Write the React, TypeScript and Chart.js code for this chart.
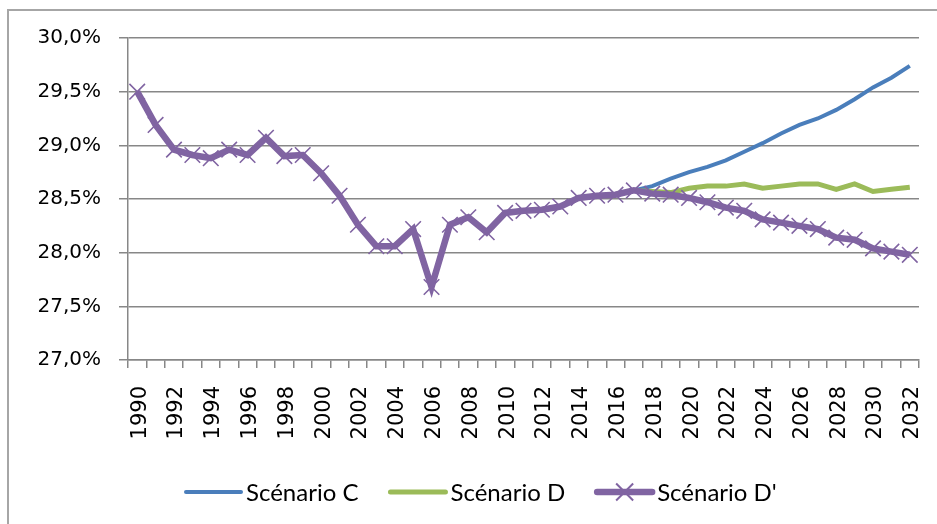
import React, { useEffect, useRef } from 'react';
import { Chart, registerables } from 'chart.js';

Chart.register(...registerables);

const years = [
  '1990', '1991', '1992', '1993', '1994', '1995', '1996', '1997', '1998', '1999',
  '2000', '2001', '2002', '2003', '2004', '2005', '2006', '2007', '2008', '2009',
  '2010', '2011', '2012', '2013', '2014', '2015', '2016', '2017', '2018', '2019',
  '2020', '2021', '2022', '2023', '2024', '2025', '2026', '2027', '2028', '2029',
  '2030', '2031', '2032',
];

// Shared historical values 1990–2017 (%)
const history = [
  29.5, 29.19, 28.96, 28.91, 28.88, 28.96, 28.91, 29.07, 28.9, 28.91,
  28.74, 28.53, 28.26, 28.06, 28.06, 28.22, 27.68, 28.26, 28.33, 28.19,
  28.37, 28.39, 28.4, 28.43, 28.51, 28.53, 28.54, 28.58,
];

// Projections 2018–2032 (%)
const scenarioCProj = [
  28.62, 28.69, 28.75, 28.8, 28.86, 28.94, 29.02, 29.11, 29.19, 29.25,
  29.33, 29.43, 29.54, 29.63, 29.74,
];
const scenarioDProj = [
  28.57, 28.56, 28.6, 28.62, 28.62, 28.64, 28.6, 28.62, 28.64, 28.64,
  28.59, 28.64, 28.57, 28.59, 28.61,
];
const scenarioDpProj = [
  28.55, 28.54, 28.51, 28.47, 28.42, 28.39, 28.31, 28.28, 28.25, 28.22,
  28.14, 28.12, 28.04, 28.01, 27.98,
];

const seriesNames = ['Scénario C', 'Scénario D', "Scénario D'"];
const seriesColors = ['#4A7EBB', '#9BBB59', '#8064A2'];

const yMin = 27;
const yMax = 30;
const yStep = 0.5;

const AXIS_FONT = 'DejaVu Sans';
const LEGEND_FONT = 'Lato';

const legendPlugin = {
  id: 'customLegend',
  afterDraw(chart: any) {
    const ctx = chart.ctx;
    ctx.save();
    const y = 492;
    let x = 186;
    const sample = 55;
    ctx.font = `24px ${LEGEND_FONT}`;
    ctx.textBaseline = 'middle';
    ctx.textAlign = 'left';
    seriesNames.forEach((name, i) => {
      const ds = chart.data.datasets[i];
      ctx.strokeStyle = seriesColors[i];
      ctx.lineWidth = ds.borderWidth;
      ctx.lineCap = 'round';
      ctx.beginPath();
      ctx.moveTo(x, y);
      ctx.lineTo(x + sample, y);
      ctx.stroke();
      if (i === 2) {
        const r = 8.5;
        ctx.lineWidth = 2;
        ctx.lineCap = 'butt';
        ctx.beginPath();
        ctx.moveTo(x + sample / 2 - r, y - r);
        ctx.lineTo(x + sample / 2 + r, y + r);
        ctx.moveTo(x + sample / 2 - r, y + r);
        ctx.lineTo(x + sample / 2 + r, y - r);
        ctx.stroke();
      }
      ctx.fillStyle = '#000';
      ctx.fillText(name, x + sample + 5, y + 1);
      const w = ctx.measureText(name).width;
      x += sample + 5 + w + 32;
    });
    ctx.restore();
  },
};

export default function App() {
  const ref = useRef<HTMLCanvasElement | null>(null);

  useEffect(() => {
    if (!ref.current) return;
    const chart = new Chart(ref.current, {
      type: 'line',
      data: {
        labels: years,
        datasets: [
          {
            label: seriesNames[0],
            data: [...history, ...scenarioCProj],
            borderColor: seriesColors[0],
            backgroundColor: seriesColors[0],
            borderWidth: 4,
            pointRadius: 0,
            tension: 0,
            order: 3,
          },
          {
            label: seriesNames[1],
            data: [...history, ...scenarioDProj],
            borderColor: seriesColors[1],
            backgroundColor: seriesColors[1],
            borderWidth: 5,
            pointRadius: 0,
            tension: 0,
            order: 2,
          },
          {
            label: seriesNames[2],
            data: [...history, ...scenarioDpProj],
            borderColor: seriesColors[2],
            backgroundColor: seriesColors[2],
            borderWidth: 6.5,
            pointStyle: 'crossRot',
            pointRadius: 11,
            pointBorderWidth: 1.6,
            pointBorderColor: seriesColors[2],
            tension: 0,
            order: 1,
          },
        ],
      },
      options: {
        animation: false,
        responsive: false,
        maintainAspectRatio: false,
        layout: { padding: { left: 0, top: 38, right: 18, bottom: 0 } },
        plugins: {
          legend: { display: false },
          tooltip: { enabled: false },
        },
        scales: {
          x: {
            type: 'category',
            offset: true,
            grid: {
              display: true,
              drawOnChartArea: false,
              drawTicks: true,
              tickLength: 8,
              offset: true,
              color: '#878787',
              lineWidth: 1.5,
            },
            border: { display: true, color: '#878787', width: 1.5 },
            ticks: {
              autoSkip: false,
              minRotation: 90,
              maxRotation: 90,
              padding: 18,
              labelOffset: 3,
              color: '#000',
              font: { family: AXIS_FONT, size: 21 },
              callback: (_v: any, i: number) => (i % 2 === 0 ? years[i] : ''),
            },
            afterFit: (scale: any) => {
              scale.height = 164;
              scale.paddingLeft = 0;
              scale.paddingRight = 0;
            },
          },
          y: {
            min: yMin,
            max: yMax,
            grid: {
              color: '#878787',
              lineWidth: 1.5,
              tickLength: 9,
              drawTicks: true,
            },
            border: { display: true, color: '#878787', width: 1.5 },
            ticks: {
              stepSize: yStep,
              padding: 18,
              color: '#000',
              font: { family: AXIS_FONT, size: 20 },
              callback: (v: any) => Number(v).toFixed(1).replace('.', ',') + '%',
            },
            afterFit: (scale: any) => {
              scale.width = 128;
              scale.paddingTop = 0;
              scale.paddingBottom = 0;
            },
          },
        },
      },
      plugins: [legendPlugin],
    });
    return () => chart.destroy();
  }, []);

  return (
    <div style={{ position: 'fixed', left: 0, top: 0, width: 937, height: 524, background: '#fff', overflow: 'hidden' }}>
      <div
        style={{
          position: 'absolute',
          left: 7,
          top: 9,
          width: 960,
          height: 560,
          border: '2px solid #A6A6A6',
          boxSizing: 'border-box',
        }}
      />
      <canvas ref={ref} width={937} height={524} style={{ position: 'absolute', left: 0, top: 0, display: 'block' }} />
    </div>
  );
}
